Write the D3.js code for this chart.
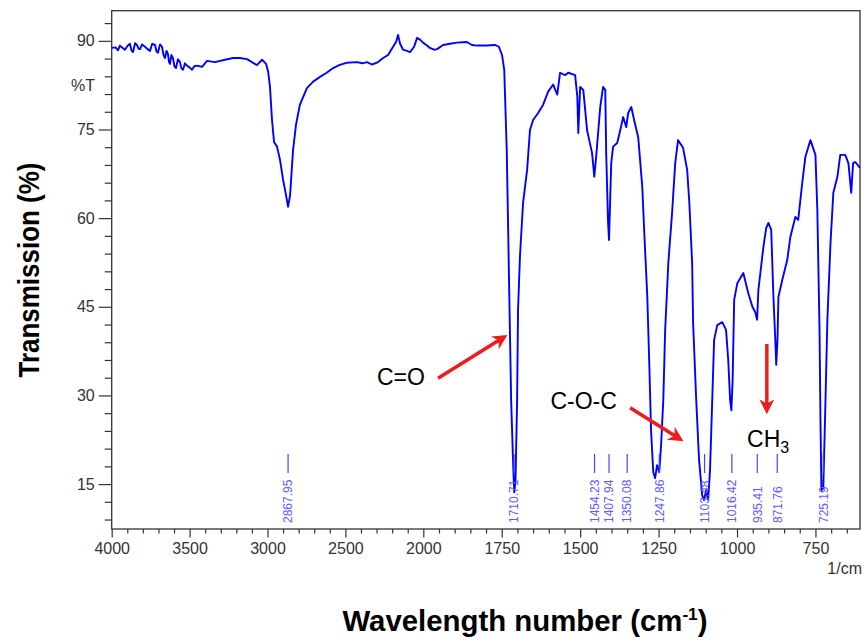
<!DOCTYPE html>
<html>
<head>
<meta charset="utf-8">
<script src="https://cdn.jsdelivr.net/npm/d3@7"></script>
<style>
body { margin: 0; background: #fff; }
text { font-family: "Liberation Sans", Arial, sans-serif; }
</style>
</head>
<body>
<div id="chart"></div>
<script>
// spectrum (cm-1, %T)
var wavenumber = [4000,3975,3960,3947,3935,3915,3900,3883,3873,3863,3850,3838,3828,3818,3805,3786,3770,3754,3740,3722,3712,3703,3690,3677,3667,3658,3648,3639,3632,3626,3617,3607,3597,3587,3575,3562,3552,3542,3530,3517,3500,3485,3470,3453,3420,3388,3337,3273,3221,3177,3132,3068,3035,3009,2996,2984,2971,2958,2939,2920,2900,2881,2868,2855,2836,2817,2792,2747,2707,2663,2620,2579,2540,2490,2426,2390,2361,2330,2297,2258,2226,2194,2175,2162,2149,2130,2105,2085,2059,2040,2021,2002,
  1988,1979,1966,1956,1937,1915,1893,1861,1845,1829,1797,1772,1759,1749,1742,1739,1734,1731,1726,1720,1713,1710,1706,1701,1698,1692,1682,1669,1660,1650,1634,1618,1602,1586,1573,1564,1548,1538,1516,1509,1506,1500,1490,1478,1462,1455,1449,1436,1427,1420,1417,1411,1408,1401,1395,1382,1372,1363,1353,1347,1337,1328,1315,1302,1296,1286,1280,1274,1267,1261,1255,1248,1242,1235,1229,1219,1207,1197,1188,1172,1159,1152,1143,1140,1130,1121,1111,1105,1098,1092,1086,1079,1073,1063,1047,1035,1028,1022,1018,1014,1009,999,980,964,951,942,936,932,916,907,900,891,884,878,875,871,868,856,840,830,814,805,792,782,766,750,744,737,734,731,725,718,712,702,693,680,671,655,645,636,630,623,608];
var transmission = [88.8,88.9,88.4,89.2,88.9,88.5,89.1,89.5,88.4,88.1,89.6,89.3,88.7,88.6,89.4,89.0,88.6,88.3,89.5,89.3,88.2,88.0,89.4,89.0,87.6,87.1,88.3,87.8,86.4,86.1,87.6,87.1,85.7,85.4,86.9,86.4,85.3,85.1,86.2,85.8,85.5,85.1,85.7,85.8,85.6,86.6,86.4,86.8,87.1,87.1,86.9,85.9,86.8,86.1,84.8,82.2,76.6,72.9,72.1,69.9,66.5,63.9,61.9,63.9,71.5,75.8,79.2,82.0,83.1,83.9,84.6,85.4,85.9,86.3,86.4,86.2,86.4,86.0,86.3,87.1,87.6,89.0,89.8,91.0,89.5,88.5,88.3,88.1,89.0,90.5,90.2,89.7,
  89.2,88.8,88.5,88.6,89.3,89.5,89.7,89.8,89.3,89.2,89.2,89.3,89.0,87.6,85.1,80.0,71.5,62.6,47.3,29.2,17.4,13.6,15.7,29.2,44.5,53.4,62.6,68.2,74.9,76.6,77.8,79.2,81.4,82.6,80.9,84.6,84.2,84.6,84.2,80.5,74.4,82.2,81.7,74.9,71.0,67.0,70.4,78.8,82.2,81.7,71.0,59.2,56.3,69.3,72.1,72.7,74.9,77.1,75.4,77.8,78.8,76.6,73.7,65.3,58.0,46.7,36.0,24.1,17.0,16.0,18.2,17.0,21.6,29.2,41.1,52.4,60.9,69.3,73.2,71.9,68.2,62.6,52.4,42.3,29.2,19.1,13.1,12.3,14.0,12.3,17.4,29.2,39.4,41.9,42.4,41.1,36.0,29.2,27.5,32.6,46.2,49.0,50.7,47.3,45.0,44.1,42.8,47.8,55.1,58.3,59.2,58.0,46.7,39.4,35.2,39.4,46.7,49.5,52.9,56.8,60.2,59.7,66.0,70.4,73.2,70.7,61.4,41.1,25.8,14.0,14.3,29.2,42.8,55.8,64.3,67.0,70.7,70.7,69.3,64.3,69.3,69.5,68.5];

var peakWn = [2867.95, 1710.71, 1454.23, 1407.94, 1350.08, 1247.86, 1103.48, 1016.42, 935.41, 871.76, 725.19];
var peakLabels = ["2867.95", "1710.71", "1454.23", "1407.94", "1350.08", "1247.86", "1103.48", "1016.42", "935.41", "871.76", "725.19"];

var yMajor = [15, 30, 45, 60, 75, 90];
var yMinor = [9, 12, 18, 21, 24, 27, 33, 36, 39, 42, 48, 51, 54, 57, 63, 66, 69, 72, 78, 81, 84, 87, 93];
var xMajor = [4000, 3500, 3000, 2500, 2000, 1750, 1500, 1250, 1000, 750];
var xMinor = d3.range(3900, 2000, -100).concat(d3.range(1950, 610, -50)).filter(function (d) {
    return xMajor.indexOf(d) < 0;
});

// annotation text and arrows, in data units
var groupNames = ["C=O", "C-O-C", "CH"];
var groupWn = [1995, 1489, 968];
var groupT = [33.1, 29.1, 22.6];
var arrowFromWn = [1953, 1341, 905];
var arrowFromT = [32.9, 27.9, 38.7];
var arrowToWn = [1733, 1172, 905];
var arrowToT = [40.2, 22.3, 26.9];

var width = 864, height = 641;
var margin = {top: 10.7, right: 4, bottom: 112, left: 111.7};

var svg = d3.select("#chart").append("svg")
    .attr("width", width)
    .attr("height", height);

// the x axis is compressed above 2000 cm-1 (two scales, like the instrument print)
var x = d3.scaleLinear().domain([4000, 2000, 608]).range([margin.left, 423.3, width - margin.right]);
var y = d3.scaleLinear().domain([7.4, 95.1]).range([height - margin.bottom, margin.top]);

var bottom = height - margin.bottom;

// y axis
svg.append("g")
    .attr("transform", "translate(" + margin.left + ",0)")
    .call(d3.axisLeft(y).tickValues(yMinor).tickSize(7).tickFormat(""));
svg.append("g")
    .attr("transform", "translate(" + margin.left + ",0)")
    .call(d3.axisLeft(y).tickValues(yMajor).tickSize(13).tickPadding(4));

// x axis
svg.append("g")
    .attr("transform", "translate(0," + bottom + ")")
    .call(d3.axisBottom(x).tickValues(xMinor).tickSize(4.5).tickFormat(""));
svg.append("g")
    .attr("transform", "translate(0," + bottom + ")")
    .call(d3.axisBottom(x).tickValues(xMajor).tickSize(8.5).tickPadding(5).tickFormat(d3.format("d")));

svg.selectAll(".domain").remove();
svg.selectAll(".tick line").attr("stroke", "#333").attr("stroke-width", 1.2);
svg.selectAll(".tick text")
    .attr("font-size", 16)
    .attr("font-family", "'Liberation Sans', Arial, sans-serif")
    .attr("fill", "#333");

// frame
svg.append("rect")
    .attr("x", margin.left)
    .attr("y", margin.top)
    .attr("width", width - margin.right - margin.left)
    .attr("height", bottom - margin.top)
    .attr("fill", "none")
    .attr("stroke", "#333")
    .attr("stroke-width", 1.3);

svg.append("text")
    .attr("x", 95)
    .attr("y", 85)
    .attr("dy", "0.35em")
    .attr("text-anchor", "end")
    .attr("font-size", 16)
    .attr("fill", "#333")
    .text("%T");

svg.append("text")
    .attr("x", 862)
    .attr("y", 574)
    .attr("text-anchor", "end")
    .attr("font-size", 16)
    .attr("fill", "#333")
    .text("1/cm");

// spectrum
var points = wavenumber.map(function (d, i) {
    return [d, transmission[i]];
});
var line = d3.line()
    .x(function (d) { return x(d[0]); })
    .y(function (d) { return y(d[1]); });

svg.append("path")
    .datum(points)
    .attr("fill", "none")
    .attr("stroke", "#0000ff")
    .attr("stroke-width", 1.9)
    .attr("stroke-linejoin", "round")
    .attr("d", line);

// peak markers
var peaks = svg.selectAll(".peak")
    .data(peakWn)
    .enter().append("g")
    .attr("class", "peak");

peaks.append("line")
    .attr("x1", function (d) { return x(d); })
    .attr("x2", function (d) { return x(d); })
    .attr("y1", bottom - 75)
    .attr("y2", bottom - 56)
    .attr("stroke", "#4545ff")
    .attr("stroke-width", 1.2);

peaks.append("text")
    .attr("transform", function (d) {
        return "translate(" + (x(d) + 4.3) + "," + (bottom - 6) + ") rotate(-90)";
    })
    .attr("font-size", 12)
    .attr("fill", "#5c5cff")
    .text(function (d, i) { return peakLabels[i]; });

// arrows
var defs = svg.append("defs");
defs.append("marker")
    .attr("id", "head")
    .attr("viewBox", "0 0 10 10")
    .attr("refX", 7)
    .attr("refY", 5)
    .attr("markerUnits", "userSpaceOnUse")
    .attr("markerWidth", 15)
    .attr("markerHeight", 15)
    .attr("orient", "auto")
    .append("path")
    .attr("d", "M0,0 L10,5 L0,10 L3,5 z")
    .attr("fill", "#ee1c1c");

groupNames.forEach(function (name, i) {
    var x1 = x(arrowFromWn[i]), y1 = y(arrowFromT[i]);
    var x2 = x(arrowToWn[i]), y2 = y(arrowToT[i]);
    var len = Math.sqrt((x2 - x1) * (x2 - x1) + (y2 - y1) * (y2 - y1));
    var k = (len - 4) / len;
    svg.append("line")
        .attr("x1", x1).attr("y1", y1)
        .attr("x2", x1 + (x2 - x1) * k).attr("y2", y1 + (y2 - y1) * k)
        .attr("stroke", "#ee1c1c")
        .attr("stroke-width", 3.5)
        .attr("marker-end", "url(#head)");
});

svg.append("text")
    .attr("x", x(groupWn[0])).attr("y", y(groupT[0]))
    .attr("dy", "0.35em")
    .attr("text-anchor", "end")
    .attr("font-size", 23)
    .text(groupNames[0]);

svg.append("text")
    .attr("x", x(groupWn[1])).attr("y", y(groupT[1]))
    .attr("dy", "0.35em")
    .attr("text-anchor", "middle")
    .attr("font-size", 23)
    .text(groupNames[1]);

var ch = svg.append("text")
    .attr("x", x(groupWn[2])).attr("y", y(groupT[2]))
    .attr("dy", "0.35em")
    .attr("font-size", 23)
    .text(groupNames[2]);
ch.append("tspan").attr("dy", 6).attr("font-size", 16).text("3");

// axis titles
svg.append("text")
    .attr("transform", "translate(39,270) rotate(-90)")
    .attr("text-anchor", "middle")
    .attr("font-size", 30)
    .attr("font-weight", "bold")
    .attr("textLength", 215)
    .attr("lengthAdjust", "spacingAndGlyphs")
    .text("Transmission (%)");

var xt = svg.append("text")
    .attr("x", 525)
    .attr("y", 631)
    .attr("text-anchor", "middle")
    .attr("font-size", 29)
    .attr("font-weight", "bold")
    .attr("textLength", 365)
    .attr("lengthAdjust", "spacingAndGlyphs")
    .text("Wavelength number (cm");
xt.append("tspan").attr("dy", -11).attr("font-size", 17).text("-1");
xt.append("tspan").attr("dy", 11).text(")");
</script>
</body>
</html>
